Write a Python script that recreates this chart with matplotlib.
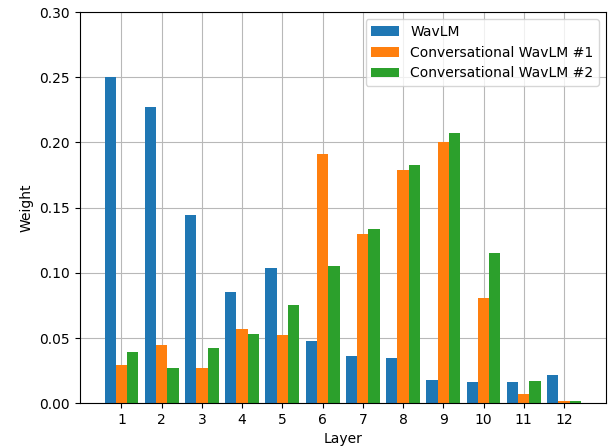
import numpy as np
import matplotlib
matplotlib.use('Agg')
import matplotlib.pyplot as plt

layers = list(range(1, 13))
wavlm = [0.250, 0.227, 0.144, 0.085, 0.104, 0.048, 0.036, 0.035, 0.018, 0.016, 0.016, 0.022]
conv1 = [0.029, 0.045, 0.027, 0.057, 0.052, 0.191, 0.130, 0.179, 0.200, 0.081, 0.007, 0.002]
conv2 = [0.039, 0.027, 0.042, 0.053, 0.075, 0.105, 0.134, 0.183, 0.207, 0.115, 0.017, 0.002]
labels = ['WavLM', 'Conversational WavLM #1', 'Conversational WavLM #2']

x = np.array(layers)
width = 0.28

fig = plt.figure(figsize=(6.12, 4.48), dpi=100)
ax = fig.add_axes([0.13, 0.10, 0.86, 0.873])

ax.bar(x - width, wavlm, width, label=labels[0])
ax.bar(x, conv1, width, label=labels[1])
ax.bar(x + width, conv2, width, label=labels[2])

ax.set_xticks(x)
ax.set_xlim(-0.04, 13.04)
ax.set_ylim(0, 0.3)
ax.set_xlabel('Layer')
ax.set_ylabel('Weight')
ax.grid(True, color='#b8b8b8')
ax.set_axisbelow(True)
ax.legend(loc='upper right')

fig.savefig('out.png', dpi=100)
